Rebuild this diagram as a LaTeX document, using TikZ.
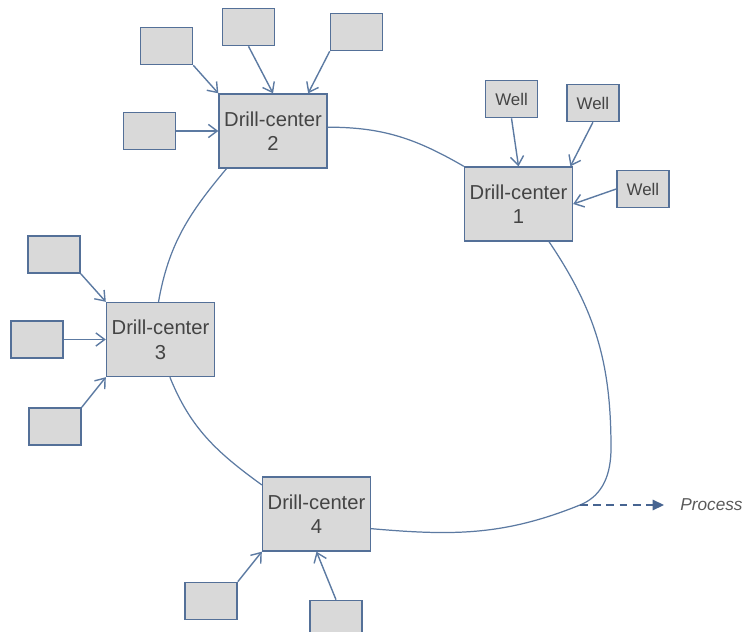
\documentclass[tikz,border=0pt]{standalone}
\usepackage{fontspec}
\setmainfont{Liberation Sans}
\usepackage{tikz}
\usetikzlibrary{arrows.meta,positioning}
\usepackage{xcolor}
\definecolor{cBox}{RGB}{217,217,217}
\definecolor{cEdge}{RGB}{84,112,152}
\definecolor{cLine}{RGB}{92,122,162}
\definecolor{cDash}{RGB}{70,100,145}
\definecolor{cText}{RGB}{68,68,68}
\definecolor{cProc}{RGB}{90,90,90}
\tikzset{
  basebox/.style={rectangle,draw=cEdge,fill=cBox,line width=0.8pt,
                  text=cText,align=center},
  drillbox/.style={basebox,minimum width=2.16cm,minimum height=1.48cm,
                   inner sep=0pt,font=\fontsize{11.5}{14}\selectfont},
  wellbox/.style={basebox,minimum width=1.04cm,minimum height=0.74cm,
                  inner sep=0pt,font=\fontsize{9.6}{11}\selectfont},
  proclabel/.style={inner xsep=0.32cm,text=cProc,
                    font=\fontsize{9.8}{11}\selectfont\itshape},
  feed/.style={-{Straight Barb[length=5pt,width=7.5pt]},line width=0.8pt,draw=cLine},
  link/.style={line width=0.7pt,draw=cLine},
  dasharr/.style={-{Triangle[length=6.5pt,width=6pt]},dash pattern=on 4.5pt off 3pt,
                  line width=0.9pt,draw=cDash}
}

\begin{document}
\begin{tikzpicture}[x=0.02cm,y=0.02cm]
  \useasboundingbox (0,0) rectangle (744,-632);

  % drill centres
  \node[drillbox] (dc2) at (273,-131)   {Drill-center\\2};
  \node[drillbox] (dc1) at (518.5,-204) {Drill-center\\1};
  \node[drillbox] (dc3) at (160.5,-339.5) {Drill-center\\3};
  \node[drillbox] (dc4) at (316.5,-514) {Drill-center\\4};

  % wells around centre 1
  \node[wellbox, above=0.96cm of dc1, xshift=-0.14cm] (w1a) {Well};
  \node[wellbox, above right=0.88cm and -0.14cm of dc1] (w1b) {Well};
  \node[wellbox, right=0.86cm of dc1, yshift=0.3cm] (w1c) {Well};

  % wells around centre 2
  \node[wellbox, above left=0.56cm and 0.5cm of dc2] (w2a) {};
  \node[wellbox, above=0.94cm of dc2, xshift=-0.49cm] (w2b) {};
  \node[wellbox, above right=0.84cm and 0.04cm of dc2] (w2c) {};
  \node[wellbox, left=0.84cm of dc2] (w2d) {};

  % wells around centre 3
  \node[wellbox, above left=0.56cm and 0.5cm of dc3] (w3a) {};
  \node[wellbox, left=0.84cm of dc3] (w3b) {};
  \node[wellbox, below left=0.6cm and 0.48cm of dc3] (w3c) {};

  % wells around centre 4
  \node[wellbox, below left=0.6cm and 0.48cm of dc4] (w4a) {};
  \node[wellbox, below=0.96cm of dc4, xshift=0.39cm] (w4b) {};

  \node[proclabel, anchor=west] (proc) at (664,-505) {Process};

  % well feeds
  \draw[feed] (w1a.south) -- (dc1.north);
  \draw[feed] (w1b.south) -- (dc1.36);
  \draw[feed] (w1c.west) -- (dc1.east);

  \draw[feed] (w2a.south east) -- (dc2.north west);
  \draw[feed] (w2b.south) -- (dc2.north);
  \draw[feed] (w2c.south west) -- (dc2.47);
  \draw[feed] (w2d.east) -- (dc2.west);

  \draw[feed] (w3a.south east) -- (dc3.north west);
  \draw[feed] (w3b.east) -- (dc3.west);
  \draw[feed] (w3c.north east) -- (dc3.south west);

  \draw[feed] (w4a.north east) -- (dc4.south west);
  \draw[feed] (w4b.north) -- (dc4.south);

  % pipeline ring
  \coordinate (bend) at (611,-448);
  \coordinate (join) at (580,-505);
  \draw[link] (dc2.4) to[out=0,in=150] (dc1.north west);
  \draw[link] (dc2.-141) to[out=-130,in=80] (dc3.93);
  \draw[link] (dc3.-76) to[out=-68,in=144] (dc4.152);
  \draw[link] (dc1.-51) to[out=-56,in=90] (bend)
      to[out=-90,in=22] (join) to[out=202,in=-5] (dc4.-15);

  \draw[dasharr] (join) -- (proc.west);
\end{tikzpicture}
\end{document}
